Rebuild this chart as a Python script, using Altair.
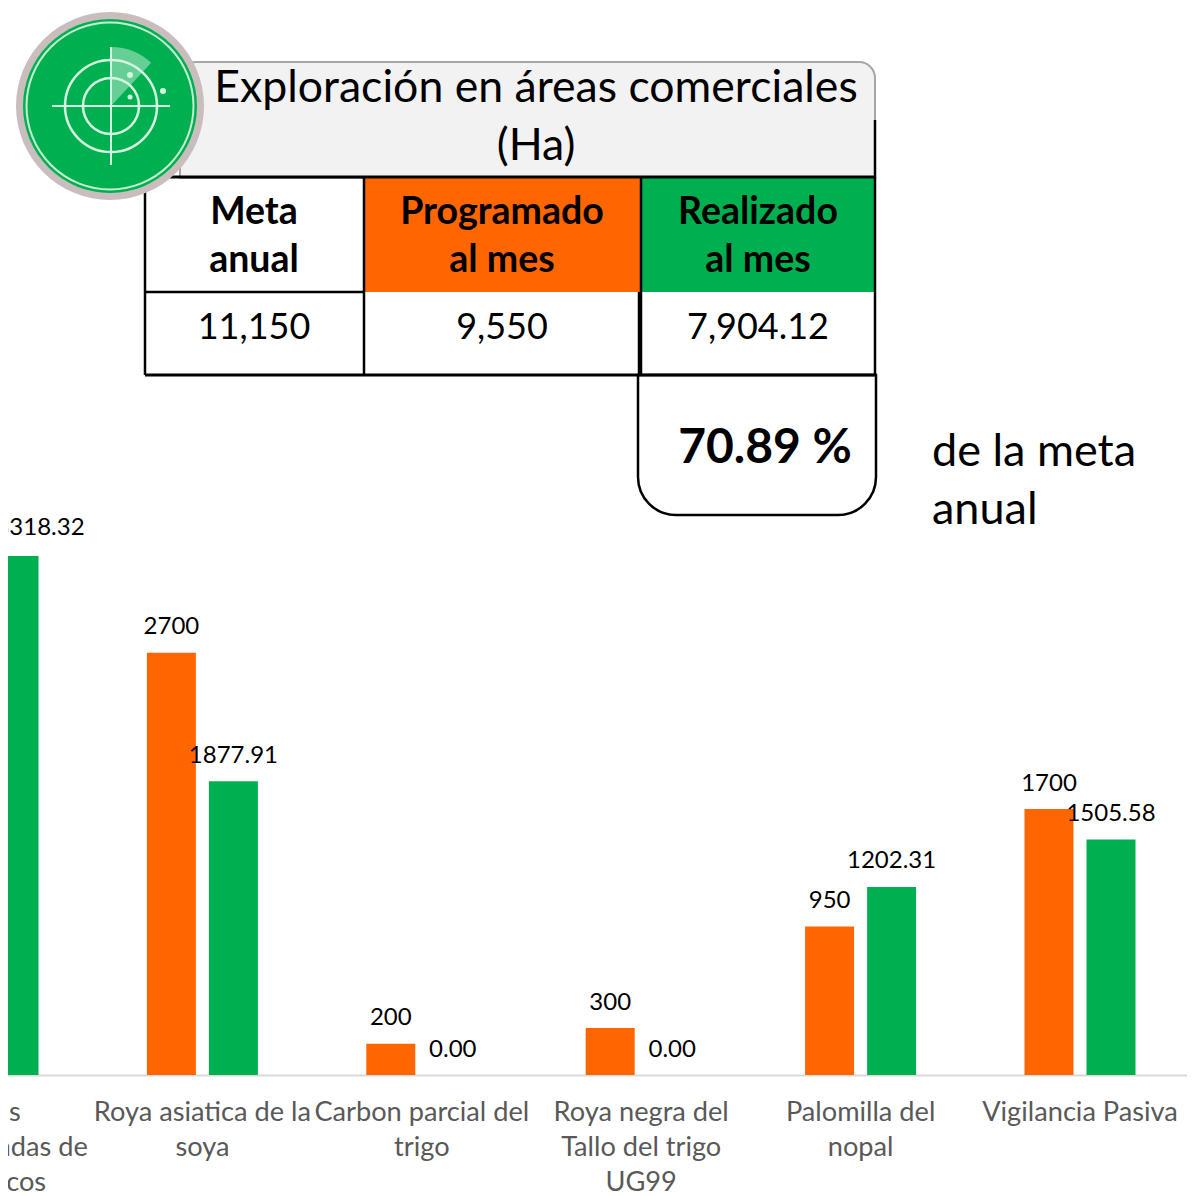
import altair as alt
import pandas as pd

categorias = ["Plagas|reglamentadas de|los cítricos", "Roya asiatica de la|soya", "Carbon parcial del|trigo",
              "Roya negra del|Tallo del trigo|UG99", "Palomilla del|nopal", "Vigilancia Pasiva"]
programado = [3300, 2700, 200, 300, 950, 1700]
realizado = [3318.32, 1877.91, 0.00, 0.00, 1202.31, 1505.58]
etq_prog = ["", "2700", "200", "300", "950", "1700"]
etq_real = ["3318.32", "1877.91", "0.00", "0.00", "1202.31", "1505.58"]
titulo = ["Exploración en áreas comerciales", "(Ha)"]
encabezados = [["Meta", "anual"], ["Programado", "al mes"], ["Realizado", "al mes"]]
fila = ["11,150", "9,550", "7,904.12"]
porcentaje = "70.89 %"
nota = ["de la meta", "anual"]

NAR, VER = "#FF6600", "#00B050"
FONT = "Lato"
P = 8  # page margin

filas = []
for c, p, r, ep, er in zip(categorias, programado, realizado, etq_prog, etq_real):
    filas.append({"cat": c, "serie": "Programado", "v": p, "t": ep})
    filas.append({"cat": c, "serie": "Realizado", "v": r, "t": er})
df = pd.DataFrame(filas)

xs = alt.X("cat:N", sort=categorias,
           scale=alt.Scale(domain=categorias, range=[-134.7, 1181.7], paddingInner=0.494, paddingOuter=0.247),
           axis=alt.Axis(title=None, labelExpr="split(datum.label,'|')", labelAngle=0, ticks=False,
                         domainColor="#D9D9D9", domainWidth=2, labelColor="#595959", labelFont=FONT,
                         labelFontSize=27.2, labelLineHeight=35, labelPadding=24, labelLimit=400,
                         labelOverlap=False, grid=False, labelBaseline="top"))
xo = alt.XOffset("serie:N", scale=alt.Scale(domain=["Programado", "Realizado"], paddingInner=0.21, paddingOuter=0))
ys = alt.Y("v:Q", scale=alt.Scale(domain=[0, 6822], nice=False), axis=None)

bars = alt.Chart(df).mark_bar().encode(
    x=xs, xOffset=xo, y=ys,
    color=alt.Color("serie:N", scale=alt.Scale(domain=["Programado", "Realizado"], range=[NAR, VER]), legend=None))
vals = alt.Chart(df).transform_filter("datum.v != 3318.32").mark_text(
    font=FONT, fontSize=24, color="#000000", baseline="bottom", dy=-13.5).encode(
    x=xs, xOffset=xo, y=ys, text="t:N")
val_primero = alt.Chart(df).transform_filter("datum.v == 3318.32").mark_text(
    font=FONT, fontSize=24, color="#000000", baseline="bottom", dy=-16, dx=26).encode(
    x=xs, xOffset=xo, y=ys, text="t:N")

one = alt.Data(values=[{}])


def rect(x0, x1, y0, y1, **kw):
    return alt.Chart(one).mark_rect(**kw).encode(
        x=alt.value(x0 - P), x2=alt.value(x1 - P), y=alt.value(y0 - P), y2=alt.value(y1 - P))


def rule(x0, x1, y0, y1, color="#000000", w=2.5, **kw):
    return alt.Chart(one).mark_rule(color=color, strokeWidth=w, **kw).encode(
        x=alt.value(x0 - P), x2=alt.value(x1 - P), y=alt.value(y0 - P), y2=alt.value(y1 - P))


def txt(s, x, y, size, bold=False, align="center", color="#000000"):
    return alt.Chart(one).mark_text(font=FONT, fontSize=size, fontWeight="bold" if bold else "normal",
                                    align=align, baseline="middle", color=color).encode(
        x=alt.value(x - P), y=alt.value(y - P), text=alt.value(s))


def dot(x, y, d, **kw):
    return alt.Chart(one).mark_point(shape="circle", size=d * d, **kw).encode(
        x=alt.value(x - P), y=alt.value(y - P))


capas = [bars, vals, val_primero]
# title box
capas += [
    rect(180, 875, 62, 178, fill="#F2F2F2", stroke="#A6A6A6", strokeWidth=2,
         cornerRadiusTopRight=16, cornerRadiusTopLeft=16),
    rule(875, 875, 120, 178, w=2.5),
    txt(titulo[0], 536, 88.5, 44.6),
    txt(titulo[1], 536, 146.5, 44.6),
]
# table
capas += [
    rect(365, 640, 178, 292, fill=NAR),
    rect(640, 875, 178, 292, fill=VER),
    rule(145, 876, 177, 177, w=3),
    rule(145, 876, 375, 375, w=3),
    rule(145, 364, 292, 292),
    rule(145, 145, 177, 375),
    rule(364, 364, 177, 375),
    rule(639, 639, 292, 375),
    rule(641, 641, 177, 375),
    rule(875, 875, 177, 375),
    rect(638, 876, 375, 515, fill="#FFFFFF", fillOpacity=0, stroke="#000000", strokeWidth=2.5,
         cornerRadiusBottomLeft=38, cornerRadiusBottomRight=38),
]
for s, x, y in [(encabezados[0][0], 254, 213), (encabezados[0][1], 254, 261),
                (encabezados[1][0], 502, 213), (encabezados[1][1], 502, 261),
                (encabezados[2][0], 758, 213), (encabezados[2][1], 758, 261)]:
    capas.append(txt(s, x, y, 37.5, bold=True))
capas += [txt(fila[0], 254, 328, 36), txt(fila[1], 502, 328, 36), txt(fila[2], 758, 328, 36),
          txt(porcentaje, 765, 449, 48, bold=True),
          txt(nota[0], 932, 452, 45, align="left"), txt(nota[1], 932, 510, 45, align="left")]
# radar icon
capas += [
    dot(110, 106, 188, filled=True, color="#C9BDBD", opacity=1),
    dot(110, 106, 174, filled=True, color=VER, opacity=1),
    dot(110, 106, 167, filled=False, color="#C4EFD3", strokeWidth=2, opacity=1),
    alt.Chart(one).mark_arc(radius=59, theta=0, theta2=0.75, fill="#FFFFFF", opacity=0.4).encode(
        x=alt.value(111 - P), y=alt.value(106 - P)),
    dot(111, 106, 92, filled=False, color="#D5F5E0", strokeWidth=2.5, opacity=1),
    dot(111, 106, 56, filled=False, color="#D5F5E0", strokeWidth=2.5, opacity=1),
    rule(52, 170, 106, 106, color="#D5F5E0", w=2),
    rule(111, 111, 47, 165, color="#D5F5E0", w=2),
    dot(130, 75, 6, filled=True, color="#D5F5E0", opacity=1),
    dot(163, 91, 6, filled=True, color="#D5F5E0", opacity=1),
    dot(130, 97, 5, filled=True, color="#D5F5E0", opacity=1),
]

chart = alt.layer(*capas).properties(
    width=1179, height=1067,
    padding={"left": 0, "top": 0, "right": 0, "bottom": 121},
    autosize=alt.AutoSizeParams(type="none"),
).configure(background="#FFFFFF", view=alt.ViewConfig(stroke=None))

chart.save("out.html", embed_options={"renderer": "svg", "actions": False})
